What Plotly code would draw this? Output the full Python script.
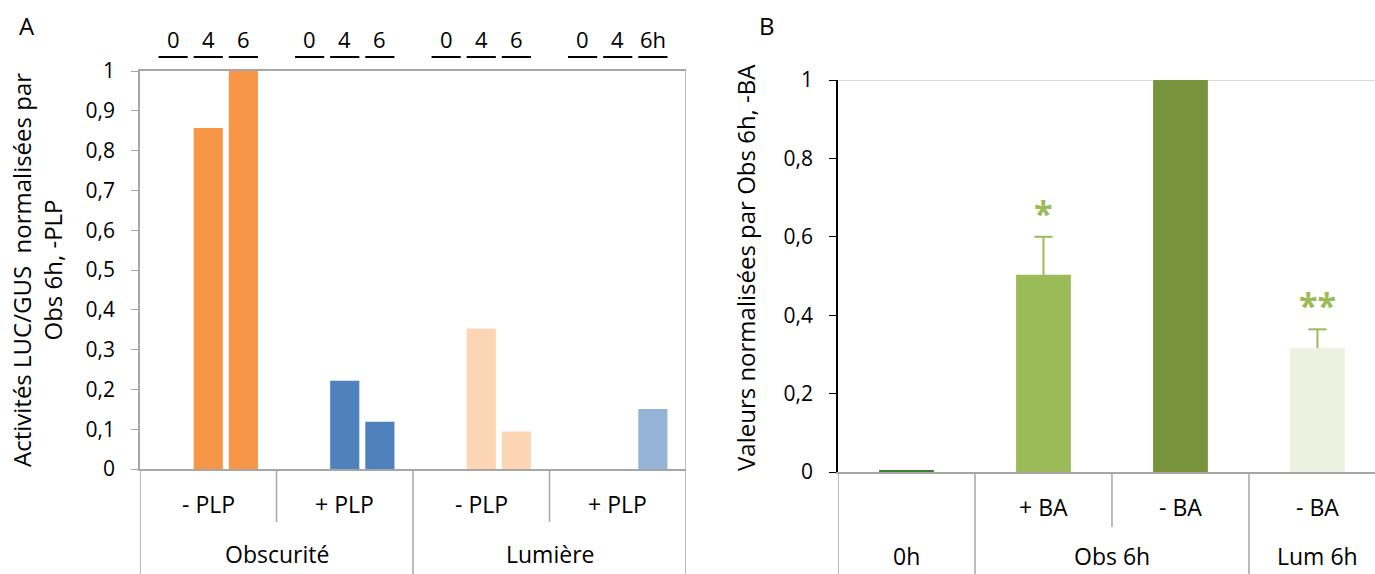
import plotly.graph_objects as go

# ---------------- Data: panel A ----------------
a_light = ["Obscurité", "Obscurité", "Lumière", "Lumière"]
a_plp = ["- PLP", "+ PLP", "- PLP", "+ PLP"]
a_times = ["0", "4", "6"]
a_time_labels_last = ["0", "4", "6h"]
a_vals_0h = [0.0, 0.0, 0.0, 0.0]
a_vals_4h = [0.857, 0.222, 0.353, 0.0]
a_vals_6h = [1.0, 0.119, 0.094, 0.151]
a_colors = ["#F79646", "#4F81BD", "#FCD5B5", "#95B3D7"]
a_yticks = [0, 0.1, 0.2, 0.3, 0.4, 0.5, 0.6, 0.7, 0.8, 0.9, 1]
a_yticklabels = ["0", "0,1", "0,2", "0,3", "0,4", "0,5", "0,6", "0,7", "0,8", "0,9", "1"]

# ---------------- Data: panel B ----------------
b_treat = ["", "+ BA", "- BA", "- BA"]
b_group = ["0h", "Obs 6h", "Obs 6h", "Lum 6h"]
b_vals = [0.004, 0.503, 1.0, 0.316]
b_err = [None, 0.097, None, 0.048]
b_sig = ["", "*", "", "**"]
b_colors = ["#3F7F2A", "#9BBB59", "#77933C", "#EBF1DE"]
b_yticks = [0, 0.2, 0.4, 0.6, 0.8, 1]
b_yticklabels = ["0", "0,2", "0,4", "0,6", "0,8", "1"]

FONT = "Open Sans"
GRAY = "#A6A6A6"
ERRC = "#9BBB59"
H = 574.0
LAB = 23
TICK = 21
TITLE = 24

def py(px):
    return (H - px) / H

bargap = 0.228
bargroupgap = 0.17

fig = go.Figure()

xs = list(range(len(a_plp)))
for vals, t in zip([a_vals_0h, a_vals_4h, a_vals_6h], a_times):
    fig.add_trace(go.Bar(x=xs, y=vals, marker=dict(color=a_colors, line=dict(width=0)),
                         name=t, xaxis="x", yaxis="y", showlegend=False))

fig.add_trace(go.Bar(x=list(range(len(b_vals))), y=b_vals, width=0.40,
                     marker=dict(color=b_colors, line=dict(width=0)),
                     xaxis="x2", yaxis="y2", showlegend=False))

# upper error bars: stem via error_y (no caps), cap via a line marker at the top
b_err_idx = [i for i, e in enumerate(b_err) if e]
b_err_top = [b_vals[i] + b_err[i] for i in b_err_idx]
fig.add_trace(go.Scatter(x=b_err_idx, y=b_err_top, mode="markers",
                         marker=dict(symbol="line-ew", size=13, line=dict(color=ERRC, width=2)),
                         error_y=dict(type="data", symmetric=False, array=[0]*len(b_err_idx),
                                      arrayminus=[b_err[i] for i in b_err_idx],
                                      color=ERRC, thickness=2, width=0),
                         xaxis="x2", yaxis="y2", showlegend=False, hoverinfo="skip"))

a_dom_y = [py(469), py(71)]
b_dom_y = [py(472), py(80)]

fig.update_layout(
    width=1375, height=574,
    margin=dict(l=0, r=0, t=0, b=0),
    paper_bgcolor="white", plot_bgcolor="white",
    barmode="group", bargap=bargap, bargroupgap=bargroupgap,
    font=dict(family=FONT, size=LAB, color="black"),
    xaxis=dict(domain=[140/1375, 686/1375], range=[-0.5, 3.5], showticklabels=False,
               showgrid=False, zeroline=False, showline=True, mirror=True,
               linecolor=GRAY, linewidth=1.5, ticks="", automargin=False, fixedrange=True),
    yaxis=dict(domain=a_dom_y, range=[0, 1], tickvals=a_yticks, ticktext=a_yticklabels,
               showgrid=False, zeroline=False, showline=True, linecolor=GRAY, linewidth=1.5,
               ticks="outside", ticklen=7, tickcolor=GRAY, tickfont=dict(size=TICK),
               ticklabelstandoff=12, automargin=False, anchor="x"),
    xaxis2=dict(domain=[838/1375, 1.0], range=[-0.5, 3.42], showticklabels=False,
                showgrid=False, zeroline=False, showline=True, linecolor=GRAY, linewidth=2,
                ticks="", automargin=False, anchor="y2"),
    yaxis2=dict(domain=b_dom_y, range=[0, 1], tickvals=b_yticks, ticktext=b_yticklabels,
                showgrid=False, zeroline=False, showline=True, linecolor="black", linewidth=1.5,
                ticks="outside", ticklen=7, tickcolor="black", tickfont=dict(size=TICK),
                ticklabelstandoff=12, automargin=False, anchor="x2"),
)

shapes = []
ann = []

# ----- Panel A category area -----
a_bottom = py(469)
inner_bottom = py(522)
for xb in [-0.5, 1.5, 3.5]:
    shapes.append(dict(type="line", xref="x", yref="paper", x0=xb, x1=xb, y0=0,
                       y1=a_bottom if xb != 3.5 else a_dom_y[1],
                       line=dict(color=GRAY, width=1.5)))
for xb in [0.5, 2.5]:
    shapes.append(dict(type="line", xref="x", yref="paper", x0=xb, x1=xb, y0=inner_bottom, y1=a_bottom,
                       line=dict(color=GRAY, width=1.5)))
for i, lab in enumerate(a_plp):
    ann.append(dict(text=lab, xref="x", yref="paper", x=i, y=py(504), showarrow=False,
                    font=dict(size=LAB), xanchor="center", yanchor="middle"))
seen = []
for i, g in enumerate(a_light):
    if g in seen:
        continue
    seen.append(g)
    idx = [j for j, gg in enumerate(a_light) if gg == g]
    ann.append(dict(text=g, xref="x", yref="paper", x=sum(idx)/len(idx), y=py(554), showarrow=False,
                    font=dict(size=LAB), xanchor="center", yanchor="middle"))

# time labels on top with underlines
n = len(a_times)
slot = (1 - bargap) / n
bw = slot * (1 - bargroupgap)
for i in range(len(a_plp)):
    labels = a_time_labels_last if i == len(a_plp) - 1 else a_times
    for k, t in enumerate(labels):
        cx = i - (1 - bargap) / 2 + (k + 0.5) * slot
        ann.append(dict(text=t, xref="x", yref="paper", x=cx, y=py(39), showarrow=False,
                        font=dict(size=22), xanchor="center", yanchor="middle"))
        shapes.append(dict(type="line", xref="x", yref="paper", x0=cx - bw/2, x1=cx + bw/2,
                           y0=py(57), y1=py(57), line=dict(color="black", width=2)))

# ----- Panel B category area -----
b_bottom = py(472)
for xb in [-0.5, 0.5, 2.5]:
    shapes.append(dict(type="line", xref="x2", yref="paper", x0=xb, x1=xb, y0=0, y1=b_bottom,
                       line=dict(color=GRAY, width=1.5)))
shapes.append(dict(type="line", xref="x2", yref="paper", x0=1.5, x1=1.5, y0=py(527), y1=b_bottom,
                   line=dict(color=GRAY, width=1.5)))
shapes.append(dict(type="line", xref="x2", yref="y2", x0=-0.5, x1=3.42, y0=1, y1=1,
                   line=dict(color="#D9D9D9", width=2), layer="below"))
for i, lab in enumerate(b_treat):
    if lab:
        ann.append(dict(text=lab, xref="x2", yref="paper", x=i, y=py(507), showarrow=False,
                        font=dict(size=LAB), xanchor="center", yanchor="middle"))
seenb = []
for g in b_group:
    if g in seenb:
        continue
    seenb.append(g)
    idx = [j for j, gg in enumerate(b_group) if gg == g]
    ann.append(dict(text=g, xref="x2", yref="paper", x=sum(idx)/len(idx), y=py(556), showarrow=False,
                    font=dict(size=LAB), xanchor="center", yanchor="middle"))
for i, s in enumerate(b_sig):
    if s:
        top = b_vals[i] + (b_err[i] or 0)
        ann.append(dict(text="<b>" + s + "</b>", xref="x2", yref="y2", x=i, y=top + 0.062, showarrow=False,
                        font=dict(size=34, color=ERRC), xanchor="center", yanchor="middle"))

# axis titles and panel letters
ann.append(dict(text="Activités LUC/GUS  normalisées par<br>Obs 6h, -PLP", xref="paper", yref="paper",
                x=37/1375, y=py(270), textangle=-90, showarrow=False, font=dict(size=TITLE),
                xanchor="center", yanchor="middle"))
ann.append(dict(text="Valeurs normalisées par Obs 6h, -BA", xref="paper", yref="paper",
                x=745/1375, y=py(268), textangle=-90, showarrow=False, font=dict(size=TITLE),
                xanchor="center", yanchor="middle"))
ann.append(dict(text="A", xref="paper", yref="paper", x=27/1375, y=py(26), showarrow=False,
                font=dict(size=24), xanchor="center", yanchor="middle"))
ann.append(dict(text="B", xref="paper", yref="paper", x=767/1375, y=py(26), showarrow=False,
                font=dict(size=24), xanchor="center", yanchor="middle"))

fig.update_layout(shapes=shapes, annotations=ann)
fig.write_html("out.html", config={"displayModeBar": False},
               post_script="document.body.style.margin='0';document.body.style.padding='0';")
